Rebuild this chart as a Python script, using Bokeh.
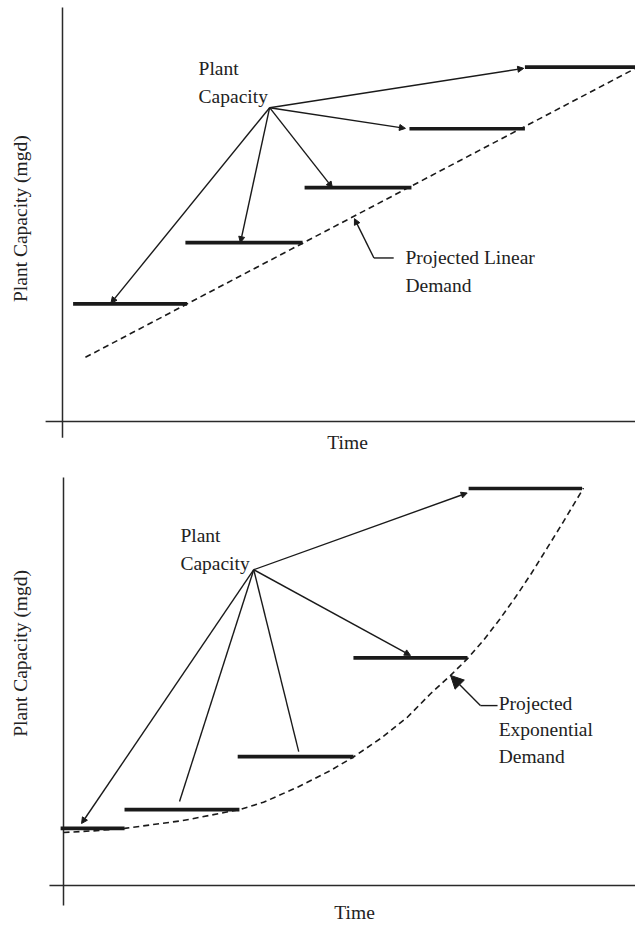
import math
from bokeh.plotting import figure
from bokeh.layouts import column
from bokeh.models import ColumnDataSource, Arrow, NormalHead
from bokeh.core.properties import value
from bokeh.embed import file_html
from bokeh.resources import INLINE

FONT = "Liberation Serif"
FS = "19.5px"
INK = "#1a1a1a"
TXT = "#222222"

# ---------------- top panel: linear demand ----------------
lin_bar_start = [0.37, 4.29, 8.45, 12.11, 16.14]
lin_bar_end = [4.35, 8.38, 12.18, 16.14, 20.0]
lin_bar_level = [28.4, 43.2, 56.5, 70.7, 85.6]
lin_demand_time = [0.80, 20.0]
lin_demand_value = [15.5, 85.3]
lin_hub = [7.23, 75.8]
lin_arrow_time = [1.69, 6.21, 9.42, 11.97, 16.10]
lin_arrow_value = [28.6, 43.2, 56.5, 70.8, 85.3]
lin_callout_tip = [10.19, 49.0]
lin_callout_elbow = [10.87, 39.5]
lin_callout_end = [11.56, 39.5]
lin_callout_lines = ["Projected Linear", "Demand"]
lin_callout_text_x = 11.97
lin_callout_text_y = [39.5, 32.9]
lin_hub_label = ["Plant", "Capacity"]
lin_hub_label_x = 4.75
lin_hub_label_y = [85.3, 78.5]

# ---------------- bottom panel: exponential demand ----------------
exp_bar_start = [-0.10, 2.13, 6.08, 10.12, 14.14]
exp_bar_end = [2.13, 6.14, 10.12, 14.10, 18.10]
exp_bar_level = [14.0, 18.6, 31.6, 55.8, 97.3]
exp_demand_time = [0.00, 1.05, 2.13, 4.15, 6.14, 6.98, 8.17, 9.32, 10.12, 11.06,
                   12.01, 12.81, 13.51, 14.10, 14.66, 15.22, 15.78, 16.34, 16.89,
                   17.45, 18.15]
exp_demand_value = [13.0, 13.4, 14.0, 15.9, 18.6, 20.4, 24.1, 28.2, 31.5, 36.0,
                    41.3, 47.0, 51.5, 55.6, 60.1, 65.2, 70.7, 76.6, 82.8,
                    89.2, 97.4]
exp_hub = [6.64, 77.4]
exp_arrow_time = [0.63, 12.11, 14.09]
exp_arrow_value = [15.2, 56.4, 96.2]
exp_plain_time = [4.05, 8.21]
exp_plain_value = [20.6, 32.8]
exp_callout_tip = [13.51, 51.5]
exp_callout_elbow = [14.55, 44.1]
exp_callout_end = [15.15, 44.1]
exp_callout_lines = ["Projected", "Exponential", "Demand"]
exp_callout_text_x = 15.19
exp_callout_text_y = [44.6, 38.2, 31.6]
exp_hub_label = ["Plant", "Capacity"]
exp_hub_label_x = 4.08
exp_hub_label_y = [85.8, 78.9]

x_title = "Time"
y_title = "Plant Capacity (mgd)"


def make_panel(height, xr, yr):
    p = figure(width=635, height=height, x_range=xr, y_range=yr,
               output_backend="svg", toolbar_location=None, min_border=0,
               x_axis_location=None, y_axis_location=None)
    p.grid.grid_line_color = None
    p.outline_line_color = None
    p.background_fill_color = "white"
    p.border_fill_color = "white"
    return p


def txt(p, x, y, t, align="left", angle=0.0):
    p.text(x=x, y=y, text=t, text_font=value(FONT), text_font_size=FS,
           text_color=TXT, text_align=align, text_baseline="middle", angle=angle)


def build(p, bars, demand, hub, arrows, plain, callout, callout_head, callout_txt,
          hub_txt, axes, titles):
    (bs, be, bl) = bars
    # axes
    (xa0, xa1, ya0, ya1) = axes
    p.segment(x0=[xa0, 0], y0=[0, ya0], x1=[xa1, 0], y1=[0, ya1],
              line_color="#2a2a2a", line_width=1.5)
    # demand curve
    p.line(demand[0], demand[1], line_color=INK, line_width=1.6, line_dash="6 4")
    # capacity bars
    p.segment(x0=bs, y0=bl, x1=be, y1=bl, line_color=INK, line_width=3.6,
              line_cap="butt")
    # lines with arrows from hub
    n = len(arrows[0])
    src = ColumnDataSource(dict(xs=[hub[0]] * n, ys=[hub[1]] * n,
                                xe=arrows[0], ye=arrows[1]))
    p.add_layout(Arrow(end=NormalHead(size=6, fill_color=INK, line_color=INK, line_width=1),
                       x_start="xs", y_start="ys", x_end="xe", y_end="ye", source=src,
                       line_color=INK, line_width=1.4))
    if plain:
        m = len(plain[0])
        p.segment(x0=[hub[0]] * m, y0=[hub[1]] * m,
                  x1=plain[0], y1=plain[1], line_color=INK, line_width=1.4)
    # callout
    tip, elbow, end = callout
    p.add_layout(Arrow(end=NormalHead(size=callout_head, fill_color=INK, line_color=INK,
                                      line_width=1),
                       x_start=elbow[0], y_start=elbow[1], x_end=tip[0], y_end=tip[1],
                       line_color=INK, line_width=1.4))
    p.segment(x0=[elbow[0]], y0=[elbow[1]], x1=[end[0]], y1=[end[1]],
              line_color=INK, line_width=1.4)
    lines, tx, ty = callout_txt
    txt(p, [tx] * len(lines), ty, lines)
    hl, hx, hy = hub_txt
    txt(p, [hx] * len(hl), hy, hl)
    (tx0, ty0, yx0, yy0) = titles
    txt(p, [tx0], [ty0], [x_title], align="center")
    txt(p, [yx0], [yy0], [y_title], align="center", angle=math.pi / 2)


p1 = make_panel(460, (-2.164, 20.0), (-9.42, 101.69))
build(p1,
      (lin_bar_start, lin_bar_end, lin_bar_level),
      (lin_demand_time, lin_demand_value),
      lin_hub,
      (lin_arrow_time, lin_arrow_value),
      None,
      (lin_callout_tip, lin_callout_elbow, lin_callout_end), 6,
      (lin_callout_lines, lin_callout_text_x, lin_callout_text_y),
      (lin_hub_label, lin_hub_label_x, lin_hub_label_y),
      (-0.59, 20.0, -3.9, 100.0),
      (9.95, -5.1, -1.47, 49.0))

p2 = make_panel(465, (-2.199, 19.965), (-9.80, 104.17))
build(p2,
      (exp_bar_start, exp_bar_end, exp_bar_level),
      (exp_demand_time, exp_demand_value),
      exp_hub,
      (exp_arrow_time, exp_arrow_value),
      (exp_plain_time, exp_plain_value),
      (exp_callout_tip, exp_callout_elbow, exp_callout_end), 13,
      (exp_callout_lines, exp_callout_text_x, exp_callout_text_y),
      (exp_hub_label, exp_hub_label_x, exp_hub_label_y),
      (-0.49, 19.97, -4.9, 100.0),
      (10.16, -6.6, -1.50, 56.9))

layout = column(p1, p2, spacing=0)
open("out.html", "w").write(file_html(layout, INLINE))
